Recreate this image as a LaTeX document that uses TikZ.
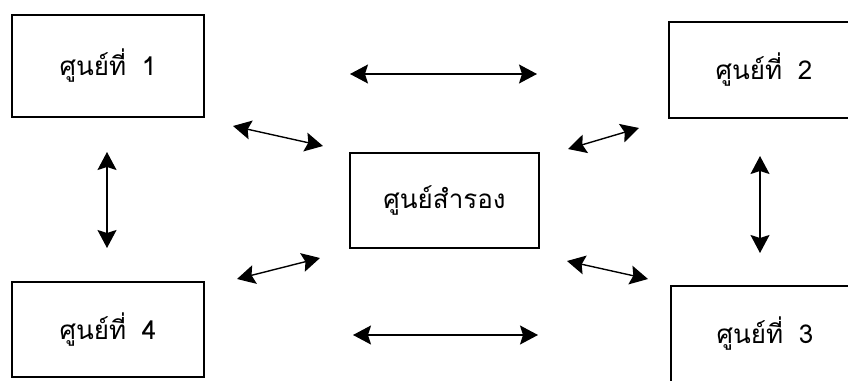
\documentclass[tikz,border=0pt]{standalone}
\usepackage{fontspec}
\newfontfamily\thaifont[Script=Thai]{Loma}
\usetikzlibrary{arrows.meta}
\tikzset{
  box/.style={draw, line width=1.4pt, rectangle, inner sep=0pt, font=\thaifont\fontsize{26}{30}\selectfont},
  link/.style={line width=1.4pt, {Stealth[length=18pt,width=19pt,inset=3pt]}-{Stealth[length=18pt,width=19pt,inset=3pt]}}
}
\begin{document}
\begin{tikzpicture}[x=1pt,y=-1pt]
\useasboundingbox (0,0) rectangle (848,380);
\node[box, minimum width=192pt, minimum height=102pt] (b1) at (108,66) {ศูนย์ที่\hspace{0.6em}1};
\node[box, minimum width=190pt, minimum height=96pt] (b2) at (764,70) {ศูนย์ที่\hspace{0.6em}2};
\node[box, minimum width=189pt, minimum height=95pt] (c) at (444.5,200.5) {ศูนย์สำรอง};
\node[box, minimum width=192pt, minimum height=95pt] (b4) at (108,329.5) {ศูนย์ที่\hspace{0.6em}4};
\node[box, minimum width=188pt, minimum height=96pt] (b3) at (765,334) {ศูนย์ที่\hspace{0.6em}3};
\coordinate (t1) at (350,74); \coordinate (t2) at (537,74);
\coordinate (m1) at (353,335); \coordinate (m2) at (538,335);
\coordinate (ul1) at (233,126); \coordinate (ul2) at (323,146);
\coordinate (ur1) at (568,149); \coordinate (ur2) at (639,128);
\coordinate (ll1) at (237,279); \coordinate (ll2) at (320,258);
\coordinate (lr1) at (567,261); \coordinate (lr2) at (648,279);
\coordinate (v1) at (107,152); \coordinate (v2) at (107,248);
\coordinate (w1) at (760,156); \coordinate (w2) at (760,253);
\draw[link] (t1) -- (t2);
\draw[link] (m1) -- (m2);
\draw[link] (ul1) -- (ul2);
\draw[link] (ur1) -- (ur2);
\draw[link] (ll1) -- (ll2);
\draw[link] (lr1) -- (lr2);
\draw[link] (v1) -- (v2);
\draw[link] (w1) -- (w2);
\end{tikzpicture}
\end{document}
